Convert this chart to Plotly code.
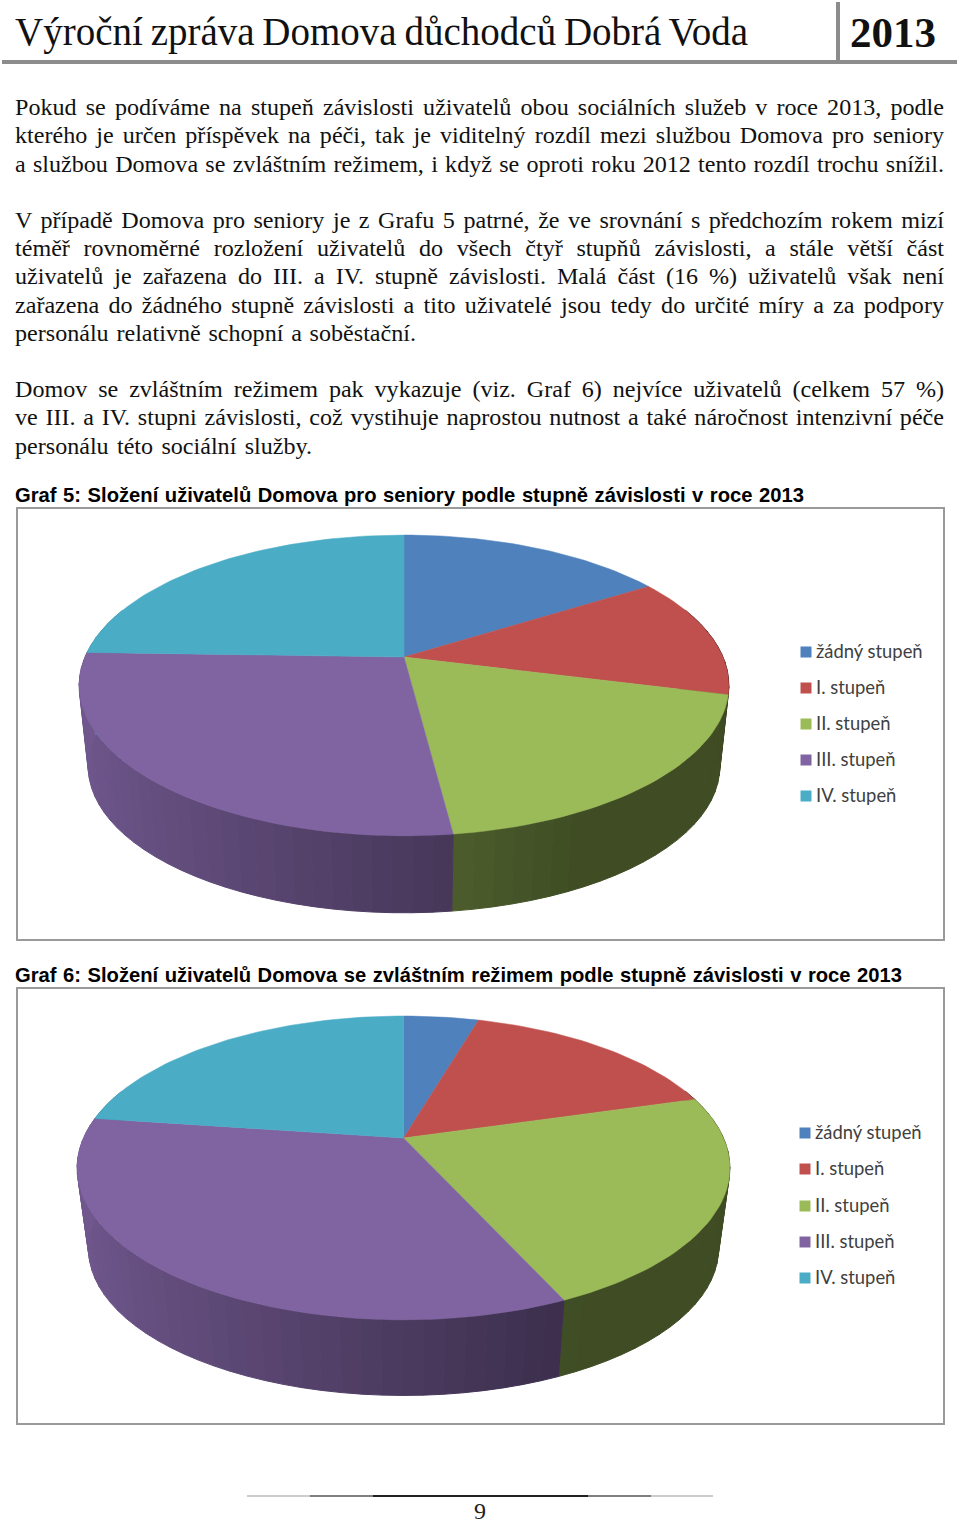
import json
import numpy as np
import plotly.graph_objects as go

CATEGORIES = ["žádný stupeň", "I. stupeň", "II. stupeň", "III. stupeň", "IV. stupeň"]
VALUES_5 = [16, 13, 19, 27.5, 24.5]
VALUES_6 = [4.5, 16, 22.75, 33.95, 22.8]
COLORS = ["#4F81BD", "#C0504D", "#9BBB59", "#8064A2", "#4BACC6"]

TITLE = "Výroční zpráva Domova důchodců Dobrá Voda"
YEAR = "2013"
PARAGRAPHS = [
    ("Pokud se podíváme na stupeň závislosti uživatelů obou sociálních služeb v roce 2013, podle", 107, 929),
    ("kterého je určen příspěvek na péči, tak je viditelný rozdíl mezi službou Domova pro seniory", 135, 929),
    ("a službou Domova se zvláštním režimem, i když se oproti roku 2012 tento rozdíl trochu snížil.", 164, 929),
    ("V případě Domova pro seniory je z Grafu 5 patrné, že ve srovnání s předchozím rokem mizí", 220, 929),
    ("téměř rovnoměrné rozložení uživatelů do všech čtyř stupňů závislosti, a stále větší část", 248, 929),
    ("uživatelů je zařazena do III. a IV. stupně závislosti. Malá část (16 %) uživatelů však není", 276, 929),
    ("zařazena do žádného stupně závislosti a tito uživatelé jsou tedy do určité míry a za podpory", 305, 929),
    ("personálu relativně schopní a soběstační.", 333, 401),
    ("Domov se zvláštním režimem pak vykazuje (viz. Graf 6) nejvíce uživatelů (celkem 57 %)", 389, 929),
    ("ve III. a IV. stupni závislosti, což vystihuje naprostou nutnost a také náročnost intenzivní péče", 417, 929),
    ("personálu této sociální služby.", 446, 297),
]
CAPTIONS = [
    ("Graf 5: Složení uživatelů Domova pro seniory podle stupně závislosti v roce 2013", 495, 789),
    ("Graf 6: Složení uživatelů Domova se zvláštním režimem podle stupně závislosti v roce 2013", 975, 887),
]
PAGE_NUMBER = "9"

W, H = 960, 1523
fig = go.Figure()


def shade(hex_color, f):
    r, g, b = [int(hex_color[i:i + 2], 16) for i in (1, 3, 5)]
    return f"rgb({int(r * f)},{int(g * f)},{int(b * f)})"


def pie3d(values, xa, ya, a, b, p, drop, shrink, legend_x, legend_ys):
    def proj(theta, k=1.0, dz=0.0):
        u, v = np.sin(theta), np.cos(theta)
        w = 1 + p * v
        return k * a * u / w, k * b * v / w - dz

    cuts = np.concatenate([[0], np.cumsum(values)]) / np.sum(values) * 2 * np.pi
    # side walls
    for i, col in enumerate(COLORS):
        lo, hi = max(cuts[i], np.radians(70)), min(cuts[i + 1], np.radians(290))
        if hi <= lo:
            continue
        n = max(1, int((hi - lo) / np.radians(3)))
        edges = np.linspace(lo, hi, n + 1)
        for t0, t1 in zip(edges[:-1], edges[1:]):
            ts = np.array([t0, t1])
            xt, yt = proj(ts)
            xb, yb = proj(ts[::-1], shrink, drop)
            um = np.sin((t0 + t1) / 2)
            f = 0.59 - 0.29 * um
            if i == 2:
                f = max(0.41, f * 0.9)
            c = shade(col, f)
            fig.add_trace(go.Scatter(
                x=np.r_[xt, xb, xt[0]], y=np.r_[yt, yb, yt[0]], xaxis=xa, yaxis=ya,
                mode="lines", fill="toself", fillcolor=c, line=dict(color=c, width=1),
                hoverinfo="skip", showlegend=False))
    # top face
    for i, (name, col) in enumerate(zip(CATEGORIES, COLORS)):
        ts = np.linspace(cuts[i], cuts[i + 1], max(3, int((cuts[i + 1] - cuts[i]) / np.radians(1.5))))
        xt, yt = proj(ts)
        fig.add_trace(go.Scatter(
            x=np.r_[0, xt, 0], y=np.r_[0, yt, 0], xaxis=xa, yaxis=ya, name=name,
            mode="lines", fill="toself", fillcolor=col, line=dict(color=col, width=0.5),
            hoverinfo="name", showlegend=False))
    # key
    fig.add_trace(go.Scatter(
        x=[legend_x] * len(CATEGORIES), y=legend_ys, xaxis=xa, yaxis=ya,
        mode="markers", marker=dict(symbol="square", size=11, color=COLORS),
        hoverinfo="skip", showlegend=False))
    fig.add_trace(go.Scatter(
        x=[legend_x + 10] * len(CATEGORIES), y=[v - 1.5 for v in legend_ys], xaxis=xa, yaxis=ya,
        mode="text", text=CATEGORIES, textposition="middle right",
        textfont=dict(family="Lato", size=18.4, color="#404040"),
        hoverinfo="skip", showlegend=False))


# chart 5: hub at page (404, 657); chart 6: hub at page (403.5, 1138)
pie3d(VALUES_5, "x2", "y2", 319, 145, 0.189, 82, 0.972, 806 - 404,
      [657 - y for y in (652, 688, 724, 760, 796)])
pie3d(VALUES_6, "x3", "y3", 320, 146, 0.197, 82, 0.965, 805 - 403.5,
      [1138 - y for y in (1133, 1169, 1206, 1242, 1278)])

# invisible trace keeps the page axes alive
fig.add_trace(go.Scatter(x=[0, W], y=[0, H], xaxis="x", yaxis="y", mode="markers",
                         marker=dict(opacity=0), hoverinfo="skip", showlegend=False))

annotations, targets = [], []


def add_line(text, x, y, size, family, target, bold=False, color="#111111"):
    annotations.append(dict(
        text=f"<b>{text}</b>" if bold else text, x=x, y=y, xref="x", yref="y",
        xanchor="left", yanchor="middle", align="left", showarrow=False,
        borderpad=0, borderwidth=0,
        font=dict(family=family, size=size, color=color)))
    targets.append(target)


add_line(TITLE, 15, 32, 39, "Liberation Serif", 733)
add_line(YEAR, 850, 32, 43, "Liberation Serif", None, bold=True)
for t, y, tw in PARAGRAPHS:
    add_line(t, 15, y, 24.1, "Liberation Serif", tw)
for t, y, tw in CAPTIONS:
    add_line(t, 15, y, 20.2, "Liberation Sans", tw, bold=True, color="#000000")
add_line(PAGE_NUMBER, 474, 1511, 24, "Liberation Serif", None, color="#222222")

shapes = [
    dict(type="line", x0=2, x1=957, y0=62, y1=62, line=dict(color="#8C8C8C", width=4)),
    dict(type="line", x0=838, x1=838, y0=2, y1=62, line=dict(color="#8C8C8C", width=4)),
    dict(type="line", x0=247, x1=713, y0=1496, y1=1496, line=dict(color="#999999", width=1)),
    dict(type="line", x0=310, x1=651, y0=1496, y1=1496, line=dict(color="#666666", width=1.5)),
    dict(type="line", x0=373, x1=588, y0=1496, y1=1496, line=dict(color="#000000", width=1.5)),
]
shapes = [dict(s, xref="x", yref="y", layer="above") for s in shapes]


def chart_axes(left, right, top, bottom, hx, hy, anchor):
    common = dict(visible=True, showgrid=False, zeroline=False, showticklabels=False,
                  ticks="", showline=True, mirror=True, linecolor="#9A9A9A", linewidth=2)
    xa = dict(common, domain=[left / W, right / W], range=[left - hx, right - hx], anchor=anchor[1])
    ya = dict(common, domain=[1 - bottom / H, 1 - top / H], range=[hy - bottom, hy - top], anchor=anchor[0])
    return xa, ya


x2, y2 = chart_axes(18, 943, 509, 939, 404, 657, ("x2", "y2"))
x3, y3 = chart_axes(18, 943, 989, 1423, 403.5, 1138, ("x3", "y3"))

fig.update_layout(
    width=W, height=H, margin=dict(l=0, r=0, t=0, b=0, pad=0),
    paper_bgcolor="white", plot_bgcolor="white", showlegend=False,
    xaxis=dict(visible=False, range=[0, W], domain=[0, 1], fixedrange=True),
    yaxis=dict(visible=False, range=[H, 0], domain=[0, 1], fixedrange=True),
    xaxis2=x2, yaxis2=y2, xaxis3=x3, yaxis3=y3,
    annotations=annotations, shapes=shapes,
)

post = """
document.body.style.margin='0';
document.documentElement.style.overflow='hidden';
var targets=%s;
var gd=document.getElementById('{plot_id}');
gd.querySelectorAll('.annotation').forEach(function(a){
  var i=+a.getAttribute('data-index'); var tw=targets[i]; if(tw==null) return;
  var t=a.querySelector('.annotation-text'); if(!t) return;
  var n=t.textContent.split(' ').length-1; if(!n) return;
  var d=(tw-t.getComputedTextLength())/n;
  t.style.wordSpacing=d+'px';
});
""" % json.dumps(targets)

fig.write_html("out.html", config=dict(displayModeBar=False), post_script=post)
